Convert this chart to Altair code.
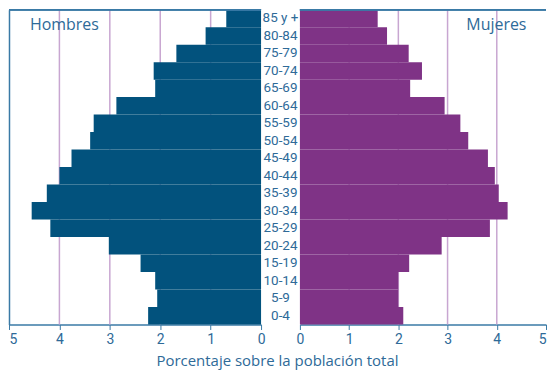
import altair as alt
import pandas as pd

ages = ["85 y +", "80-84", "75-79", "70-74", "65-69", "60-64", "55-59", "50-54", "45-49",
        "40-44", "35-39", "30-34", "25-29", "20-24", "15-19", "10-14", "5-9", "0-4"]
hombres = [0.69, 1.10, 1.68, 2.13, 2.10, 2.87, 3.32, 3.39, 3.76,
           4.00, 4.25, 4.55, 4.18, 3.02, 2.39, 2.10, 2.06, 2.24]
mujeres = [1.58, 1.77, 2.21, 2.48, 2.24, 2.94, 3.26, 3.42, 3.82,
           3.96, 4.04, 4.22, 3.86, 2.88, 2.22, 2.00, 2.00, 2.10]
tick_values = [0, 1, 2, 3, 4, 5]
grid_values = [1, 2, 3, 4]

df = pd.DataFrame({"edad": ages, "Hombres": hombres, "Mujeres": mujeres})
grid_df = pd.DataFrame({"v": grid_values})

H = 316
WL, WC, WR = 253, 39, 247

men_col = "#02527d"
women_col = "#7f3386"
text_col = "#2e6a98"
axis_col = "#3a7aa6"
grid_col = "#c8a6d1"


def x_axis(edge_align):
    return alt.Axis(values=tick_values, title=None, grid=False, domainColor=axis_col,
                    domainWidth=1.5, tickColor=axis_col, tickSize=5, labelColor=text_col,
                    labelFont="Roboto", labelFontSize=14, labelPadding=3, labelFlush=False,
                    labelAlign={"condition": {"test": "datum.value == 5", "value": edge_align},
                                "value": "center"})


# Left panel (Hombres)
lscale = alt.Scale(domain=[0, 5], reverse=True, nice=False)
l_grid = alt.Chart(grid_df).mark_rule(color=grid_col, strokeWidth=1.5).encode(
    x=alt.X("v:Q", scale=lscale, axis=x_axis("left")))
l_bars = alt.Chart(df).mark_bar(color=men_col).encode(
    x=alt.X("Hombres:Q", scale=lscale),
    y=alt.Y("edad:N", sort=ages, title=None,
            scale=alt.Scale(paddingInner=0, paddingOuter=0),
            axis=alt.Axis(labels=False, ticks=False, domainColor=axis_col, domainWidth=1.5)))
l_top = alt.Chart(grid_df).mark_rule(color=axis_col, strokeWidth=1.5).encode(
    x=alt.value(0), x2=alt.value(WL), y=alt.value(0))
l_title = alt.Chart(pd.DataFrame({"t": ["Hombres"]})).mark_text(
    align="left", baseline="middle", font="Open Sans", fontSize=16, color=text_col).encode(
    text="t:N", x=alt.value(21), y=alt.value(15))
left = alt.layer(l_grid, l_bars, l_top, l_title).properties(width=WL, height=H)

# Center labels
center = alt.Chart(df).mark_text(font="Roboto", fontSize=13.5, color=text_col).encode(
    y=alt.Y("edad:N", sort=ages, title=None, axis=None,
            scale=alt.Scale(paddingInner=0, paddingOuter=0)),
    text="edad:N").properties(width=WC, height=H)

# Right panel (Mujeres)
rscale = alt.Scale(domain=[0, 5], nice=False)
r_grid = alt.Chart(grid_df).mark_rule(color=grid_col, strokeWidth=1.5).encode(
    x=alt.X("v:Q", scale=rscale, axis=x_axis("right")))
r_bars = alt.Chart(df).mark_bar(color=women_col).encode(
    x=alt.X("Mujeres:Q", scale=rscale),
    y=alt.Y("edad:N", sort=ages, title=None,
            scale=alt.Scale(paddingInner=0, paddingOuter=0), axis=None))
r_top = alt.Chart(grid_df).mark_rule(color=axis_col, strokeWidth=1.5).encode(
    x=alt.value(0), x2=alt.value(WR), y=alt.value(0))
r_title = alt.Chart(pd.DataFrame({"t": ["Mujeres"]})).mark_text(
    align="left", baseline="middle", font="Open Sans", fontSize=16, color=text_col).encode(
    text="t:N", x=alt.value(167), y=alt.value(15))
right = alt.layer(r_grid, r_bars, r_top, r_title).properties(width=WR, height=H)

chart = alt.hconcat(left, center, right, spacing=0, bounds="flush").properties(
    padding={"left": 0, "top": 0, "right": 0, "bottom": 0},
    title=alt.TitleParams("Porcentaje sobre la población total", orient="bottom",
                          anchor="middle", font="Open Sans", fontSize=15,
                          fontWeight="normal", color=text_col, offset=8)
).configure_view(stroke=None)

chart.save("out.html", embed_options={"renderer": "svg", "actions": False})
